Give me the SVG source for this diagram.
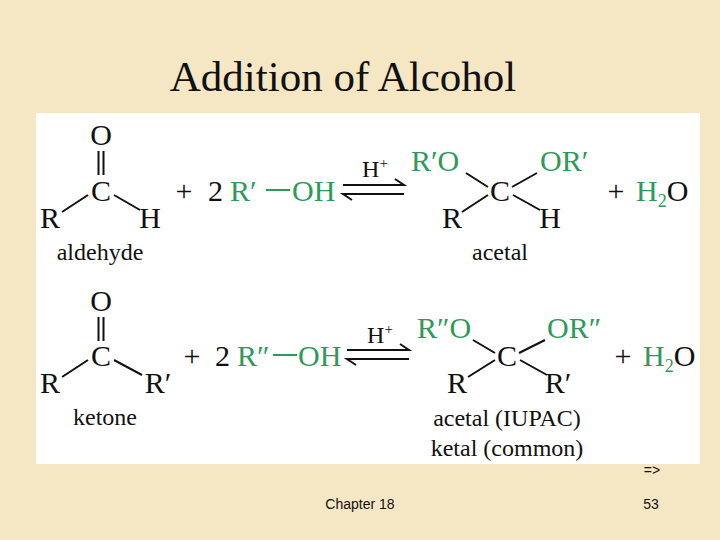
<svg xmlns="http://www.w3.org/2000/svg" width="720" height="540" viewBox="0 0 720 540">
<style>
.t{font-family:"Liberation Serif",serif;font-size:30px;fill:#111}
.g{fill:#2e9a5a}
.l{font-family:"Liberation Serif",serif;font-size:24px;fill:#111}
.b{stroke:#111;stroke-width:2;fill:none}
.gb{stroke:#2e9a5a;stroke-width:2;fill:none}
.s{font-family:"Liberation Sans",sans-serif;font-size:14px;fill:#111}
</style>
<rect width="720" height="540" fill="#f6e7c4"/>
<text x="343" y="91" text-anchor="middle" font-family="Liberation Serif,serif" font-size="43" fill="#111">Addition of Alcohol</text>
<rect x="36" y="113" width="664" height="351" fill="#fff"/>
<g id="r1">
<text class="t" x="101" y="145" text-anchor="middle">O</text>
<path class="b" d="M98.5 151V175M103.5 151V175M62 212L88 195M114 195L140 210"/>
<text class="t" x="101" y="201" text-anchor="middle">C</text>
<text class="t" x="50" y="228" text-anchor="middle">R</text>
<text class="t" x="150" y="228" text-anchor="middle">H</text>
<text class="l" x="100" y="260" text-anchor="middle">aldehyde</text>
<text class="t" x="184" y="201" text-anchor="middle">+</text>
<text class="t" x="208" y="201">2</text>
<text class="t g" x="230" y="201">R′</text>
<path class="gb" d="M266 190H290"/>
<text class="t g" x="292" y="201">OH</text>
<text class="l" x="375" y="177" text-anchor="middle">H<tspan font-size="15" dy="-9">+</tspan></text>
<path class="b" d="M343 185H404L395 179M404 194H343L352 200" stroke-width="1.8"/>
<text class="t g" x="411" y="171">R′O</text>
<text class="t g" x="540" y="171">OR′</text>
<path class="b" d="M466 173L488 187M512 187L537 173M462 212L488 195M513 195L540 210"/>
<text class="t" x="500" y="201" text-anchor="middle">C</text>
<text class="t" x="452" y="228" text-anchor="middle">R</text>
<text class="t" x="550" y="228" text-anchor="middle">H</text>
<text class="l" x="500" y="260" text-anchor="middle">acetal</text>
<text class="t" x="616" y="201" text-anchor="middle">+</text>
<text class="t" x="636" y="201"><tspan class="g">H<tspan font-size="18" dy="6">2</tspan></tspan><tspan dy="-6">O</tspan></text>
</g>
<g id="r2">
<text class="t" x="101" y="311" text-anchor="middle">O</text>
<path class="b" d="M98.5 317V341M103.5 317V341M62 377L88 360M114 360L142 375"/>
<text class="t" x="101" y="366" text-anchor="middle">C</text>
<text class="t" x="50" y="393" text-anchor="middle">R</text>
<text class="t" x="158" y="393" text-anchor="middle">R′</text>
<text class="l" x="105" y="425" text-anchor="middle">ketone</text>
<text class="t" x="192" y="366" text-anchor="middle">+</text>
<text class="t" x="215" y="366">2</text>
<text class="t g" x="237" y="366">R″</text>
<path class="gb" d="M273 355H297"/>
<text class="t g" x="298" y="366">OH</text>
<text class="l" x="380" y="343" text-anchor="middle">H<tspan font-size="15" dy="-9">+</tspan></text>
<path class="b" d="M347 350H409L400 344M409 359H347L356 365" stroke-width="1.8"/>
<text class="t g" x="417" y="338">R″O</text>
<text class="t g" x="547" y="338">OR″</text>
<path class="b" d="M473 340L495 353M519 353L545 340M468 377L495 360M520 360L547 375"/>
<text class="t" x="507" y="366" text-anchor="middle">C</text>
<text class="t" x="457" y="393" text-anchor="middle">R</text>
<text class="t" x="558" y="393" text-anchor="middle">R′</text>
<text class="l" x="507" y="426" text-anchor="middle">acetal (IUPAC)</text>
<text class="l" x="507" y="456" text-anchor="middle">ketal (common)</text>
<text class="t" x="623" y="366" text-anchor="middle">+</text>
<text class="t" x="643" y="366"><tspan class="g">H<tspan font-size="18" dy="6">2</tspan></tspan><tspan dy="-6">O</tspan></text>
</g>
<text class="s" x="652" y="475" text-anchor="middle" font-size="20">=&gt;</text>
<text class="s" x="360" y="509" text-anchor="middle">Chapter 18</text>
<text class="s" x="651" y="509" text-anchor="middle">53</text>
</svg>
